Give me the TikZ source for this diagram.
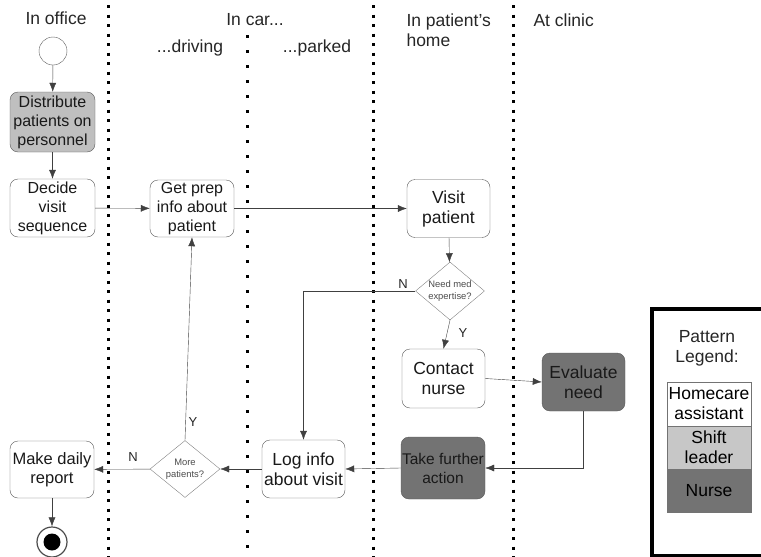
\documentclass[tikz,border=0pt]{standalone}
\usepackage{fontspec}
\setmainfont{Liberation Sans}
\usetikzlibrary{shapes.geometric,arrows.meta}

\begin{document}
\begin{tikzpicture}[x=1pt,y=-1pt,
        >={Latex[length=9pt,width=7pt]},
        act/.style={draw=black!65,rounded corners=8pt,align=center,inner sep=0pt,
            minimum width=84pt,minimum height=58pt,text=black!90,
            font=\fontsize{16}{19}\selectfont},
        big/.style={font=\fontsize{17.5}{20}\selectfont},
        dec/.style={draw=black!50,diamond,aspect=1.2,inner sep=0pt,align=center,
            minimum width=70pt,minimum height=57pt,text=black!70,
            font=\fontsize{9.4}{12}\selectfont},
        flow/.style={draw=black!75,->},
        lane/.style={font=\fontsize{17.5}{20}\selectfont,text=black!85},
        yn/.style={font=\fontsize{13}{15}\selectfont,text=black!85},
        key/.style={draw=black!55,minimum width=84pt,minimum height=43.5pt,inner sep=0pt,
            align=center,font=\fontsize{17.5}{20}\selectfont},
        sep/.style={line width=3pt,dash pattern=on 3pt off 6.5pt}]
        \useasboundingbox (0,0) rectangle (761,557);
        \foreach \x in {108,373,513}
            \draw[sep] (\x,5) -- (\x,557);
        \draw[sep,dash pattern=on 3pt off 12pt] (247,35) -- (247,557);

        \node[lane] (office) at (56,18) {In office};
        \node[lane] (car) at (255,20) {In car...};
        \node[lane] (driving) at (190,48) {...driving};
        \node[lane] (parked) at (317,48) {...parked};
        \node[lane,anchor=west,align=left] (home) at (403,30) {In patient's\\home};
        \node[lane,anchor=west] (clinic) at (530,20) {At clinic};

        \node[circle,draw=black!65,minimum size=28pt,inner sep=0pt] (start) at (53,51) {};
        \node[act,fill=black!25,minimum width=85pt,minimum height=60pt] (distribute) at (52.5,122) {Distribute\\patients on\\personnel};
        \node[act,minimum width=85pt] (decide) at (52.5,208) {Decide\\visit\\sequence};
        \node[act,minimum height=57pt] (getprep) at (192,208.5) {Get prep\\info about\\patient};
        \node[act,big,minimum width=83pt] (visit) at (448.5,208.5) {Visit\\patient};
        \node[dec,minimum width=69pt,minimum height=58pt] (needexp) at (450,291) {Need med\\expertise?};
        \node[act,big,minimum width=83pt,minimum height=59pt] (contact) at (443.5,378.5) {Contact\\nurse};
        \node[act,big,fill=black!55,minimum width=83pt] (evaluate) at (583.5,382) {Evaluate\\need};
        \node[act,fill=black!55,minimum height=62pt,font=\fontsize{15.5}{19}\selectfont] (take) at (443,468) {Take further\\action};
        \node[act,big,minimum width=83pt] (log) at (303.5,469) {Log info\\about visit};
        \node[dec] (more) at (185,469) {More\\patients?};
        \node[act,minimum height=57pt,font=\fontsize{16.5}{19}\selectfont] (make) at (52,469.5) {Make daily\\report};
        \node[circle,draw=black!70,line width=1.2pt,minimum size=30pt,inner sep=0pt] (finish) at (52,542) {};
        \node[circle,fill=black,minimum size=17pt,inner sep=0pt] (dot) at (finish) {};

        \draw[flow] (start) -- (distribute);
        \draw[flow] (distribute) -- (decide);
        \draw[flow] (decide) -- (getprep);
        \draw[flow] (getprep) -- (visit);
        \draw[flow] (visit) -- (needexp);
        \draw[flow] (needexp.west) -| (log.north);
        \draw[flow] (needexp.south) -- (contact.north);
        \draw[flow] (contact.east) -- (evaluate.west);
        \draw[flow] (evaluate.south) |- (take.east);
        \draw[flow] (take.west) -- (log.east);
        \draw[flow] (log) -- (more);
        \draw[flow] (more) -- (make);
        \draw[flow] (more.north) -- (getprep.south);
        \draw[flow] (make) -- (finish);

        \node[yn] (n1) at (403,284) {N};
        \node[yn] (y1) at (463,333) {Y};
        \node[yn] (n2) at (133,457) {N};
        \node[yn] (y2) at (193,422) {Y};

        \draw[line width=3.5pt] (652,309) rectangle (780,556);
        \node[lane,align=center] (pattern) at (707,348) {Pattern\\Legend:};
        \foreach \n/\y/\shade/\txt in {homecare/404/white/{Homecare\\assistant},
            shift/447.5/black!22/{Shift\\leader},nurse/490.5/black!55/Nurse}
            \node[key,fill=\shade] (\n) at (709,\y) {\txt};
\end{tikzpicture}
\end{document}
